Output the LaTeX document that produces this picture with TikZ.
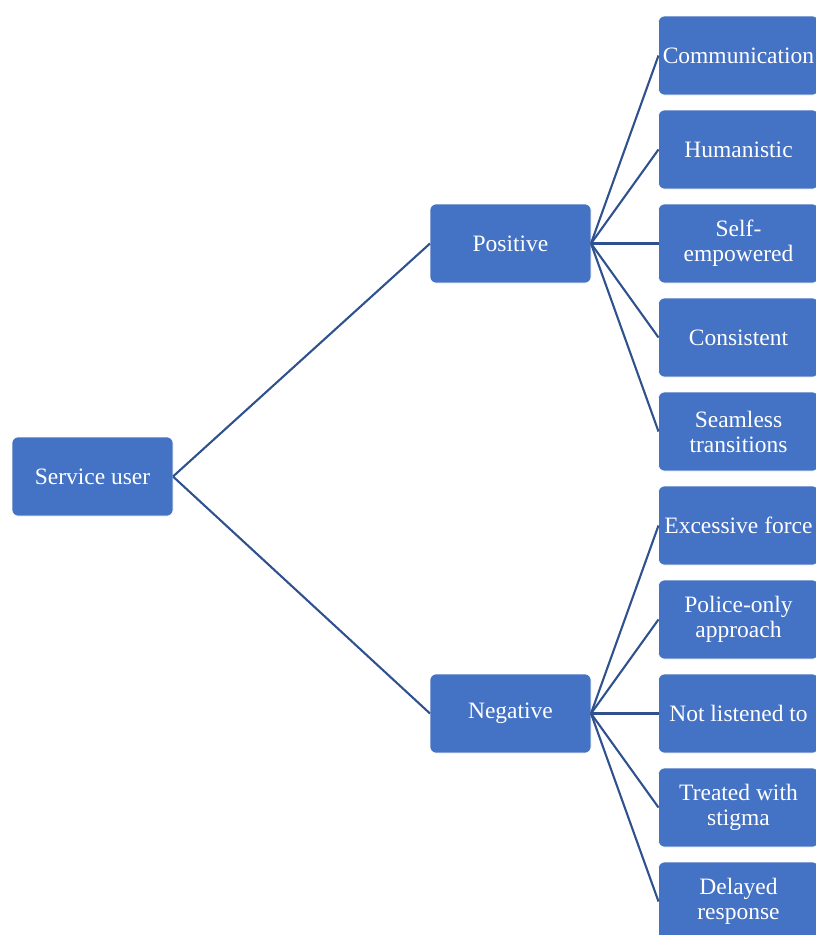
\documentclass[tikz,border=0pt]{standalone}
\usepackage{fontspec}
\setmainfont{Liberation Serif}
\usepackage{xcolor}
\usetikzlibrary{positioning}
\definecolor{boxblue}{RGB}{68,114,196}
\definecolor{lineblue}{RGB}{47,82,143}
\tikzset{
  tbox/.style={rectangle, draw=white, line width=0.6pt, fill=boxblue,
               rounded corners=6pt, align=center, text=white,
               minimum height=79pt, minimum width=161pt,
               inner sep=2pt, outer sep=0pt,
               font=\fontsize{23.5}{25}\selectfont},
  lbox/.style={tbox, minimum width=160pt},
  conn/.style={draw=lineblue, line width=2.1pt}
}

\begin{document}
\begin{tikzpicture}[x=1pt, y=1pt, node distance=15pt]
  \useasboundingbox (0,0) rectangle (815,-935);

  %% -- Root and the two groups --
  \node[tbox] (user) at (92.5,-476.5) {Service user};
  \node[tbox] (pos)  at (510.5,-243.5) {Positive};
  \node[tbox] (neg)  at (510.5,-713.5) {Negative};

  %% -- Positive leaves --
  \node[lbox] (comm) at (738.5,-55.5) {Communication};
  \node[lbox, below=of comm]  (human)    {Humanistic};
  \node[lbox, below=of human] (selfemp)  {Self-\\empowered};
  \node[lbox, below=of selfemp] (consist) {Consistent};
  \node[lbox, below=of consist] (seam)   {Seamless\\transitions};

  %% -- Negative leaves --
  \node[lbox, below=of seam]   (force)   {Excessive force};
  \node[lbox, below=of force]  (police)  {Police-only\\approach};
  \node[lbox, below=of police] (listen)  {Not listened to};
  \node[lbox, below=of listen] (stigma)  {Treated with\\stigma};
  \node[lbox, below=of stigma] (delay)   {Delayed\\response};

  %% -- Connectors: root to groups --
  \draw[conn] (user.east) -- (pos.west);
  \draw[conn] (user.east) -- (neg.west);

  %% -- Connectors: positive --
  \draw[conn] (pos.east) -- (comm.west);
  \draw[conn] (pos.east) -- (human.west);
  \draw[conn] (pos.east) -- (selfemp.west);
  \draw[conn] (pos.east) -- (consist.west);
  \draw[conn] (pos.east) -- (seam.west);

  %% -- Connectors: negative --
  \draw[conn] (neg.east) -- (force.west);
  \draw[conn] (neg.east) -- (police.west);
  \draw[conn] (neg.east) -- (listen.west);
  \draw[conn] (neg.east) -- (stigma.west);
  \draw[conn] (neg.east) -- (delay.west);
\end{tikzpicture}
\end{document}
